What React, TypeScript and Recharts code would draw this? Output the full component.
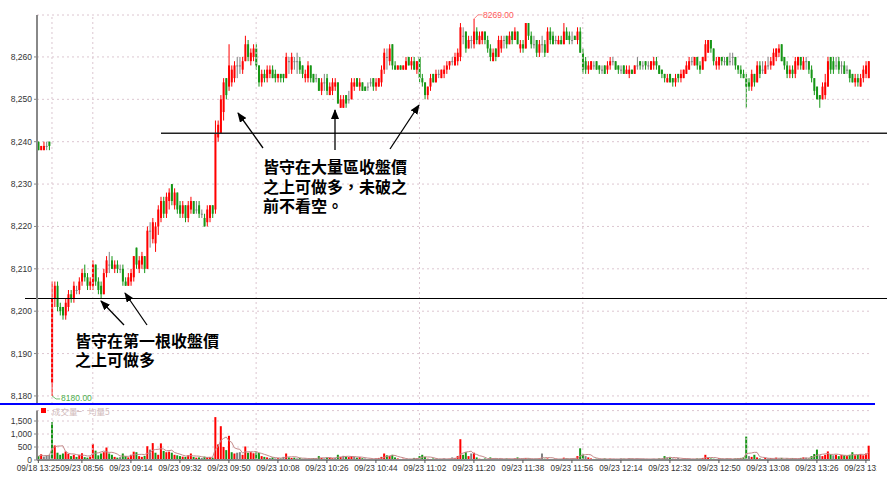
import React from 'react';
import {
  ComposedChart,
  Bar,
  Line,
  XAxis,
  YAxis,
  CartesianGrid,
  ReferenceLine,
  Cell,
} from 'recharts';

type Ohlc = [number, number, number, number]; // open, high, low, close

// 1-minute bars, 09/18 tail of session
const candles0918: Ohlc[] = [
  [8240, 8240, 8238, 8238], [8238, 8239, 8238, 8239], [8238, 8240, 8238, 8239], [8239, 8240, 8238, 8239], [8240, 8240, 8238, 8239],
];

// 09/23 08:45 - 08:59
const candles0845: Ohlc[] = [
  [8183, 8207, 8180, 8203], [8203, 8207, 8201, 8206], [8206, 8207, 8200, 8201], [8201, 8202, 8199, 8200], [8201, 8201, 8198, 8199],
  [8199, 8203, 8198, 8202], [8201, 8205, 8200, 8204], [8204, 8205, 8202, 8203], [8203, 8207, 8202, 8206], [8205, 8206, 8204, 8205],
  [8205, 8208, 8204, 8207], [8207, 8210, 8206, 8209], [8209, 8211, 8207, 8208], [8208, 8209, 8205, 8206], [8206, 8208, 8205, 8207],
];

// 09:00 - 09:59
const candles09: Ohlc[] = [
  [8206, 8212, 8205, 8211], [8211, 8211, 8206, 8207], [8207, 8208, 8204, 8205], [8206, 8207, 8203, 8204], [8204, 8210, 8204, 8209],
  [8209, 8213, 8208, 8212], [8211, 8214, 8209, 8211], [8212, 8213, 8210, 8210], [8210, 8212, 8209, 8211], [8211, 8212, 8209, 8210],
  [8210, 8211, 8209, 8210], [8210, 8211, 8206, 8207], [8207, 8208, 8206, 8206], [8206, 8209, 8206, 8208], [8207, 8210, 8206, 8209],
  [8208, 8213, 8207, 8213], [8215, 8215, 8210, 8211], [8210, 8213, 8209, 8212], [8211, 8214, 8210, 8213], [8213, 8213, 8209, 8210],
  [8210, 8220, 8210, 8219], [8219, 8221, 8215, 8219], [8217, 8222, 8216, 8221], [8216, 8221, 8214, 8220], [8220, 8225, 8218, 8224],
  [8222, 8227, 8221, 8226], [8226, 8227, 8222, 8223], [8223, 8228, 8222, 8227], [8226, 8229, 8224, 8228], [8230, 8230, 8225, 8226],
  [8225, 8229, 8224, 8228], [8228, 8228, 8223, 8224], [8225, 8226, 8222, 8223], [8223, 8226, 8222, 8225], [8225, 8225, 8221, 8222],
  [8222, 8226, 8221, 8225], [8224, 8227, 8223, 8226], [8226, 8226, 8223, 8223], [8224, 8226, 8223, 8224], [8225, 8226, 8222, 8223],
  [8223, 8224, 8222, 8223], [8222, 8223, 8220, 8220], [8221, 8225, 8220, 8224], [8222, 8225, 8221, 8225], [8225, 8225, 8222, 8223],
  [8224, 8245, 8223, 8242], [8241, 8245, 8240, 8244], [8242, 8251, 8242, 8250], [8247, 8255, 8245, 8254], [8255, 8255, 8250, 8251],
  [8253, 8263, 8252, 8258], [8254, 8258, 8253, 8257], [8255, 8259, 8254, 8258], [8258, 8260, 8255, 8258], [8258, 8260, 8256, 8258],
  [8257, 8260, 8256, 8259], [8259, 8265, 8259, 8263], [8263, 8264, 8259, 8260], [8259, 8262, 8258, 8261], [8260, 8263, 8259, 8262],
];

// 10:00 - 10:59
const candles10: Ohlc[] = [
  [8262, 8263, 8257, 8258], [8258, 8258, 8253, 8254], [8254, 8257, 8253, 8256], [8256, 8257, 8254, 8255], [8255, 8258, 8254, 8257],
  [8256, 8258, 8255, 8257], [8257, 8258, 8255, 8255], [8256, 8257, 8254, 8255], [8255, 8256, 8254, 8256], [8256, 8256, 8254, 8255],
  [8256, 8256, 8254, 8255], [8255, 8261, 8255, 8260], [8259, 8260, 8256, 8259], [8257, 8261, 8256, 8260], [8259, 8260, 8257, 8259],
  [8259, 8261, 8256, 8259], [8259, 8260, 8256, 8257], [8258, 8258, 8255, 8256], [8255, 8257, 8254, 8256], [8255, 8259, 8254, 8258],
  [8258, 8258, 8254, 8255], [8256, 8256, 8254, 8254], [8255, 8256, 8254, 8255], [8255, 8255, 8252, 8252], [8252, 8255, 8251, 8254],
  [8254, 8256, 8252, 8254], [8255, 8256, 8251, 8252], [8251, 8254, 8251, 8253], [8252, 8255, 8251, 8254], [8253, 8255, 8252, 8254],
  [8254, 8254, 8249, 8249], [8248, 8251, 8248, 8250], [8248, 8251, 8248, 8250], [8251, 8251, 8248, 8249], [8250, 8252, 8249, 8250],
  [8250, 8255, 8250, 8254], [8253, 8255, 8252, 8254], [8255, 8255, 8253, 8253], [8253, 8255, 8252, 8254], [8254, 8254, 8252, 8252],
  [8253, 8253, 8252, 8252], [8253, 8254, 8252, 8253], [8254, 8255, 8253, 8254], [8255, 8255, 8252, 8253], [8253, 8255, 8252, 8254],
  [8253, 8255, 8253, 8255], [8254, 8258, 8253, 8257], [8257, 8262, 8256, 8261], [8260, 8262, 8257, 8260], [8259, 8263, 8258, 8262],
  [8263, 8263, 8257, 8258], [8258, 8259, 8257, 8257], [8257, 8258, 8257, 8258], [8258, 8258, 8257, 8257], [8257, 8258, 8257, 8258],
  [8257, 8260, 8257, 8259], [8260, 8260, 8258, 8258], [8258, 8260, 8257, 8259], [8259, 8260, 8257, 8257], [8257, 8259, 8256, 8259],
];

// 11:00 - 11:59
const candles11: Ohlc[] = [
  [8260, 8260, 8254, 8255], [8255, 8256, 8253, 8254], [8254, 8254, 8250, 8251], [8251, 8253, 8250, 8253], [8253, 8256, 8252, 8255],
  [8256, 8256, 8254, 8254], [8254, 8257, 8254, 8256], [8256, 8257, 8255, 8256], [8255, 8257, 8255, 8257], [8256, 8258, 8255, 8257],
  [8257, 8259, 8256, 8258], [8258, 8259, 8257, 8259], [8259, 8260, 8258, 8259], [8258, 8261, 8258, 8260], [8259, 8262, 8258, 8261],
  [8260, 8268, 8259, 8267], [8265, 8267, 8263, 8265], [8266, 8266, 8261, 8262], [8262, 8265, 8262, 8264], [8264, 8265, 8262, 8264],
  [8263, 8269, 8262, 8266], [8266, 8267, 8263, 8264], [8263, 8266, 8263, 8265], [8264, 8266, 8263, 8266], [8266, 8266, 8263, 8264],
  [8264, 8265, 8261, 8262], [8262, 8263, 8259, 8260], [8259, 8262, 8259, 8261], [8262, 8262, 8259, 8260], [8260, 8265, 8260, 8264],
  [8262, 8265, 8261, 8264], [8264, 8265, 8262, 8264], [8265, 8265, 8262, 8263], [8263, 8266, 8263, 8265], [8266, 8266, 8263, 8264],
  [8264, 8267, 8264, 8266], [8266, 8266, 8263, 8263], [8262, 8264, 8261, 8263], [8263, 8264, 8261, 8262], [8262, 8268, 8262, 8268],
  [8268, 8268, 8264, 8265], [8265, 8266, 8262, 8263], [8263, 8265, 8262, 8263], [8264, 8264, 8260, 8261], [8261, 8264, 8260, 8263],
  [8263, 8265, 8261, 8263], [8263, 8264, 8260, 8261], [8261, 8267, 8261, 8266], [8266, 8267, 8263, 8264], [8265, 8266, 8263, 8263],
  [8264, 8265, 8263, 8264], [8263, 8265, 8263, 8264], [8264, 8265, 8263, 8263], [8263, 8268, 8263, 8266], [8266, 8267, 8264, 8264],
  [8265, 8266, 8263, 8264], [8264, 8266, 8263, 8264], [8265, 8265, 8264, 8264], [8264, 8267, 8263, 8266], [8266, 8267, 8261, 8261],
];

// 12:00 - 12:59
const candles12: Ohlc[] = [
  [8261, 8262, 8256, 8257], [8259, 8260, 8256, 8257], [8257, 8259, 8256, 8258], [8257, 8259, 8257, 8259], [8258, 8259, 8257, 8258],
  [8259, 8259, 8257, 8257], [8258, 8258, 8256, 8257], [8257, 8258, 8256, 8257], [8258, 8258, 8256, 8256], [8257, 8259, 8256, 8258],
  [8258, 8260, 8257, 8259], [8259, 8260, 8258, 8259], [8259, 8259, 8257, 8257], [8258, 8258, 8256, 8257], [8257, 8258, 8256, 8257],
  [8258, 8258, 8256, 8256], [8256, 8258, 8256, 8257], [8256, 8258, 8255, 8257], [8257, 8257, 8256, 8256], [8256, 8258, 8256, 8258],
  [8258, 8260, 8257, 8258], [8259, 8259, 8257, 8258], [8258, 8259, 8257, 8258], [8259, 8259, 8257, 8258], [8258, 8259, 8257, 8258],
  [8257, 8259, 8257, 8259], [8258, 8260, 8257, 8259], [8259, 8260, 8257, 8258], [8258, 8258, 8256, 8256], [8257, 8257, 8255, 8256],
  [8256, 8256, 8254, 8255], [8254, 8256, 8254, 8255], [8256, 8256, 8254, 8254], [8255, 8255, 8253, 8254], [8254, 8256, 8253, 8255],
  [8256, 8256, 8254, 8255], [8255, 8257, 8254, 8256], [8255, 8257, 8255, 8257], [8256, 8259, 8256, 8258], [8257, 8260, 8257, 8259],
  [8259, 8260, 8258, 8259], [8258, 8260, 8258, 8260], [8260, 8260, 8257, 8258], [8258, 8259, 8256, 8257], [8257, 8260, 8257, 8260],
  [8259, 8264, 8259, 8263], [8261, 8264, 8261, 8264], [8264, 8264, 8261, 8262], [8262, 8262, 8258, 8259], [8258, 8260, 8257, 8259],
  [8258, 8260, 8257, 8260], [8260, 8260, 8258, 8259], [8259, 8260, 8258, 8259], [8260, 8260, 8258, 8258], [8259, 8261, 8258, 8259],
  [8260, 8261, 8258, 8260], [8260, 8260, 8257, 8258], [8258, 8258, 8256, 8257], [8257, 8258, 8255, 8256], [8256, 8257, 8255, 8255],
];

// 13:00 - 13:45
const candles13: Ohlc[] = [
  [8255, 8256, 8248, 8253], [8254, 8255, 8252, 8253], [8253, 8257, 8252, 8256], [8256, 8256, 8253, 8254], [8254, 8259, 8254, 8258],
  [8258, 8259, 8255, 8256], [8257, 8259, 8256, 8257], [8256, 8259, 8256, 8258], [8258, 8260, 8257, 8258], [8258, 8260, 8257, 8259],
  [8258, 8262, 8258, 8261], [8260, 8262, 8259, 8262], [8261, 8263, 8260, 8262], [8263, 8263, 8259, 8259], [8260, 8260, 8257, 8258],
  [8258, 8259, 8255, 8256], [8256, 8258, 8255, 8257], [8257, 8258, 8255, 8256], [8256, 8260, 8255, 8259], [8258, 8260, 8257, 8260],
  [8260, 8260, 8257, 8258], [8257, 8260, 8257, 8259], [8259, 8260, 8257, 8259], [8259, 8259, 8256, 8257], [8257, 8258, 8254, 8255],
  [8255, 8255, 8251, 8252], [8253, 8253, 8250, 8250], [8251, 8251, 8248, 8250], [8250, 8254, 8250, 8253], [8251, 8256, 8250, 8254],
  [8253, 8260, 8253, 8259], [8260, 8260, 8256, 8257], [8259, 8260, 8256, 8257], [8258, 8260, 8257, 8258], [8259, 8260, 8256, 8257],
  [8258, 8259, 8256, 8258], [8258, 8259, 8256, 8256], [8257, 8258, 8256, 8257], [8257, 8257, 8254, 8255], [8256, 8256, 8254, 8254],
  [8254, 8256, 8253, 8255], [8255, 8256, 8253, 8254], [8253, 8256, 8253, 8255], [8255, 8258, 8254, 8257], [8256, 8259, 8255, 8258],
  [8255, 8259, 8255, 8259],
];

// volume (lots) per bar
const volume0918 = [150, 220, 130, 180, 200];
const volume0845 = [1450, 560, 280, 200, 250, 330, 240, 150, 200, 120, 200, 260, 110, 90, 130];
const volume09 = [
  620, 360, 180, 250, 300, 480, 250, 200, 120, 90, 110, 250, 150, 100, 200, 320, 300, 150, 120, 160,
  530, 400, 650, 280, 200, 640, 350, 300, 320, 280, 200, 180, 150, 130, 120, 180, 250, 120, 90, 100,
  80, 130, 100, 110, 90, 1650, 600, 1300, 500, 380, 930, 300, 250, 280, 300, 200, 520, 280, 300, 260,
];
const volume10 = [
  290, 270, 150, 120, 100, 80, 100, 60, 70, 60, 120, 250, 100, 80, 90, 60, 80, 50, 60, 40,
  50, 70, 60, 150, 80, 60, 100, 90, 70, 80, 200, 120, 160, 130, 110, 150, 120, 90, 110, 70,
  60, 40, 50, 30, 60, 80, 120, 250, 180, 150, 200, 100, 60, 40, 50, 40, 30, 40, 80, 60,
];
const volume11 = [
  150, 200, 120, 50, 40, 60, 50, 30, 40, 60, 40, 50, 100, 70, 150, 800, 200, 300, 150, 250,
  280, 100, 50, 40, 60, 30, 100, 50, 60, 40, 50, 30, 60, 50, 40, 60, 100, 40, 50, 70,
  60, 40, 30, 50, 60, 250, 50, 60, 30, 40, 50, 30, 40, 90, 60, 40, 50, 60, 150, 450,
];
const volume12 = [
  220, 150, 100, 60, 40, 50, 30, 40, 60, 30, 50, 40, 30, 40, 60, 50, 40, 70, 50, 40,
  60, 30, 50, 40, 30, 40, 50, 40, 60, 50, 150, 100, 120, 60, 50, 80, 40, 60, 50, 40,
  30, 40, 60, 50, 80, 200, 90, 60, 50, 40, 70, 50, 40, 60, 50, 30, 60, 70, 80, 100,
];
const volume13 = [
  900, 150, 120, 200, 100, 60, 40, 80, 60, 70, 50, 90, 60, 80, 40, 60, 50, 70, 60, 40,
  80, 100, 90, 60, 150, 230, 400, 180, 150, 200, 330, 220, 180, 200, 150, 200, 180, 150, 200, 300,
  180, 200, 220, 180, 250, 550,
];

const prevDayTimes = ['13:25', '13:26', '13:27', '13:28', '13:29'];
const sessionStart = 8 * 60 + 45;

const priceTicks = [8180, 8190, 8200, 8210, 8220, 8230, 8240, 8250, 8260];
const volumeTicks = [0, 500, 1000, 1500];
const tickLabels = [
  '09/18 13:25', '09/23 08:56', '09/23 09:14', '09/23 09:32', '09/23 09:50', '09/23 10:08',
  '09/23 10:26', '09/23 10:44', '09/23 11:02', '09/23 11:20', '09/23 11:38', '09/23 11:56',
  '09/23 12:14', '09/23 12:32', '09/23 12:50', '09/23 13:08', '09/23 13:26', '09/23 13:44',
];
const hourLines = ['09/23 08:45', '09/23 09:00', '09/23 10:00', '09/23 11:00', '09/23 12:00', '09/23 13:00'];

const candles = [...candles0918, ...candles0845, ...candles09, ...candles10, ...candles11, ...candles12, ...candles13];
const volumes = [...volume0918, ...volume0845, ...volume09, ...volume10, ...volume11, ...volume12, ...volume13];

const pad = (n: number) => String(n).padStart(2, '0');
const times = candles.map((_, i) => {
  if (i < prevDayTimes.length) return `09/18 ${prevDayTimes[i]}`;
  const m = sessionStart + i - prevDayTimes.length;
  return `09/23 ${pad(Math.floor(m / 60))}:${pad(m % 60)}`;
});

const data = candles.map(([o, h, l, c], i) => {
  const prevClose = i > 0 ? candles[i - 1][3] : o;
  const win = volumes.slice(Math.max(0, i - 4), i + 1);
  return {
    idx: i,
    time: times[i],
    o, h, l, c,
    range: [l, h],
    vol: volumes[i],
    ma5: win.reduce((s, v) => s + v, 0) / win.length,
    dir: c > prevClose ? 1 : c < prevClose ? -1 : 0,
  };
});

const highs = candles.map((d) => d[1]);
const lows = candles.map((d) => d[2]);
const maxIdx = highs.indexOf(Math.max(...highs));
const minIdx = lows.indexOf(Math.min(...lows));
const firstBarClose = candles0845[0][3];
const bigVolumeClose = candles[volumes.indexOf(Math.max(...volumes))][3];

const UP = '#ff0000';
const DOWN = '#169616';
const FLAT = '#808080';
const GRID = '#dcc6d0';
const FONT = '"Liberation Sans", Arial, sans-serif';
const CJK = '"Noto Sans CJK TC", "Noto Sans CJK SC", sans-serif';

function Candle(props: any) {
  const { x, y, width, height, payload } = props;
  const { o, h, l, c, idx } = payload;
  const k = h > l ? height / (h - l) : 0;
  const py = (v: number) => y + (h - v) * k;
  const cx = x + width / 2;
  const color = c > o ? UP : c < o ? DOWN : FLAT;
  const top = py(Math.max(o, c));
  const bot = py(Math.min(o, c));
  const yLow = y + height;
  return (
    <g>
      <rect x={cx - 0.5} y={y} width={1} height={height} fill={color} />
      <rect x={cx - 1} y={top} width={2} height={Math.max(bot - top, 1)} fill={color} />
      {idx === maxIdx && (
        <g>
          <polyline points={`${cx},${y} ${cx + 4},${y - 4} ${cx + 8},${y - 4}`} fill="none" stroke="#ff6a6a" strokeWidth={0.8} />
          <text x={cx + 9} y={y - 4} dominantBaseline="central" fontSize={8.5} fontFamily={FONT} fill="#ff5a5a">
            {h.toFixed(2)}
          </text>
        </g>
      )}
      {idx === minIdx && (
        <g>
          <polyline points={`${cx},${yLow} ${cx + 4},${yLow + 3} ${cx + 8},${yLow + 3}`} fill="none" stroke="#4db04d" strokeWidth={0.8} />
          <text x={cx + 9} y={yLow + 2.5} dominantBaseline="central" fontSize={8.5} fontFamily={FONT} fill="#4db04d">
            {l.toFixed(2)}
          </text>
        </g>
      )}
    </g>
  );
}

const tickStyle = { fontSize: 8.5, fill: '#333', fontFamily: FONT };
const xTickStyle = { fontSize: 8.2, fill: '#333', fontFamily: FONT };
const fmt = (v: number) => v.toLocaleString('en-US');

export default function App() {
  return (
    <div style={{ position: 'absolute', left: 0, top: 0, width: 887, height: 482, background: '#fff', overflow: 'hidden' }}>
      <div style={{ position: 'absolute', left: 0, top: 0 }}>
        <ComposedChart width={887} height={405} data={data} margin={{ top: 15, right: 17, bottom: 1, left: 0 }} barCategoryGap={0}>
          <CartesianGrid vertical={false} stroke={GRID} strokeDasharray="2 3" />
          <XAxis dataKey="time" hide />
          <YAxis
            domain={[8178.1, 8269.9]}
            ticks={priceTicks}
            interval={0}
            width={37}
            tickFormatter={fmt}
            tick={tickStyle}
            tickSize={3}
            tickMargin={2}
            axisLine={{ stroke: '#888', strokeWidth: 2 }}
            tickLine={{ stroke: '#888' }}
          />
          {hourLines.map((t) => (
            <ReferenceLine key={t} x={t} stroke={GRID} strokeDasharray="2 3" />
          ))}
          <Bar dataKey="range" shape={Candle} isAnimationActive={false} />
          <ReferenceLine
            y={firstBarClose}
            shape={(p: any) => <line x1={25} x2={887} y1={p.y1} y2={p.y1} stroke="#000" strokeWidth={1.2} />}
          />
          <ReferenceLine
            y={bigVolumeClose}
            shape={(p: any) => <line x1={161} x2={887} y1={p.y1} y2={p.y1} stroke="#222" strokeWidth={1.3} />}
          />
        </ComposedChart>
      </div>
      <div style={{ position: 'absolute', left: 0, top: 404, width: 877, height: 78, overflow: 'hidden' }}>
        <ComposedChart width={887} height={78} data={data} margin={{ top: 6.6, right: 17, bottom: 0, left: 0 }} barCategoryGap="15%">
          <CartesianGrid vertical={false} stroke={GRID} strokeDasharray="2 3" />
          <XAxis
            dataKey="time"
            ticks={tickLabels}
            interval={0}
            height={22}
            tick={xTickStyle}
            tickSize={3}
            tickMargin={2}
            axisLine={{ stroke: '#888', strokeWidth: 2 }}
            tickLine={{ stroke: '#555' }}
          />
          <YAxis
            domain={[0, 1900]}
            ticks={volumeTicks}
            interval={0}
            width={37}
            tickFormatter={fmt}
            tick={tickStyle}
            tickSize={3}
            tickMargin={2}
            axisLine={{ stroke: '#888', strokeWidth: 2 }}
            tickLine={{ stroke: '#888' }}
          />
          {hourLines.map((t) => (
            <ReferenceLine key={t} x={t} stroke={GRID} strokeDasharray="2 3" />
          ))}
          <Bar dataKey="vol" isAnimationActive={false}>
            {data.map((d) => (
              <Cell key={d.idx} fill={d.dir > 0 ? UP : d.dir < 0 ? DOWN : FLAT} />
            ))}
          </Bar>
          <Line type="linear" dataKey="ma5" stroke="#c48a8a" strokeWidth={1} dot={false} isAnimationActive={false} />
        </ComposedChart>
      </div>
      <svg width={887} height={482} style={{ position: 'absolute', left: 0, top: 0, pointerEvents: 'none' }}>
        <defs>
          <marker id="ah" markerUnits="userSpaceOnUse" markerWidth={10} markerHeight={8} refX={9} refY={4} orient="auto">
            <path d="M0,0 L10,4 L0,8 z" fill="#000" />
          </marker>
        </defs>
        <line x1={0} x2={875} y1={404} y2={404} stroke="#0000ff" strokeWidth={2} />
        <rect x={41} y={408} width={5} height={5} fill={UP} />
        <text x={52} y={411} dominantBaseline="central" fontSize={8.5} fontFamily={CJK} fill="#d2bcbc">成交量</text>
        <text x={77} y={411} dominantBaseline="central" fontSize={8.5} fontFamily={FONT} fill="#c9a4a4">–</text>
        <text x={88} y={411} dominantBaseline="central" fontSize={8.5} fontFamily={CJK} fill="#d2bcbc">均量5</text>
        <g stroke="#000" strokeWidth={1.3}>
          <line x1={263} y1={148} x2={238} y2={113} markerEnd="url(#ah)" />
          <line x1={335} y1={150} x2={335} y2={110} markerEnd="url(#ah)" />
          <line x1={390} y1={149} x2={419} y2={105} markerEnd="url(#ah)" />
          <line x1={124} y1={325} x2={101} y2={301} markerEnd="url(#ah)" />
          <line x1={147} y1={325} x2={125} y2={293} markerEnd="url(#ah)" />
        </g>
        <g fontFamily={CJK} fontSize={16} fontWeight={700} fill="#000">
          <text x={263} y={173}>皆守在大量區收盤價</text>
          <text x={263} y={192.5}>之上可做多，未破之</text>
          <text x={263} y={211.5}>前不看空。</text>
          <text x={75} y={346.5}>皆守在第一根收盤價</text>
          <text x={75} y={365.5}>之上可做多</text>
        </g>
      </svg>
    </div>
  );
}
